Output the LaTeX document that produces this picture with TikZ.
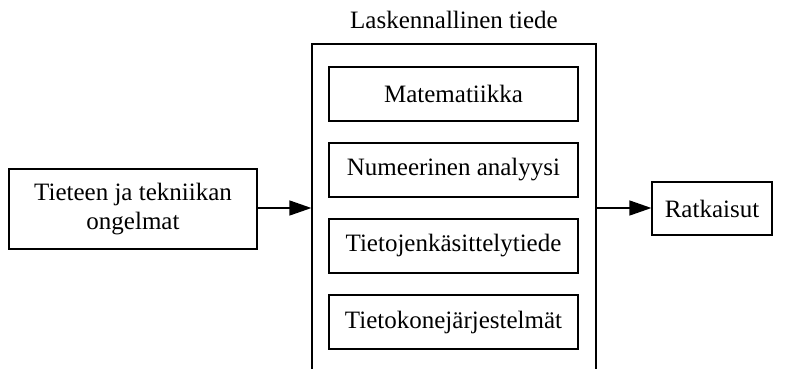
\documentclass[tikz,border=0pt]{standalone}
\usepackage{fontspec}
\setmainfont{Liberation Serif}
\usetikzlibrary{arrows.meta}
\begin{document}
\begin{tikzpicture}[x=1pt,y=-1pt,
  box/.style={draw, line width=1.2pt, inner sep=0pt, align=center, font=\fontsize{25}{29}\selectfont},
  arr/.style={line width=1.4pt, -{Triangle[length=22pt,width=15pt]}}]
\useasboundingbox (0,0) rectangle (788,368);
\clip (0,0) rectangle (788,368);
\node[box, minimum width=248pt, minimum height=80pt] (prob) at (133,209) {Tieteen ja tekniikan\\ongelmat};
\node[box, minimum width=284pt, minimum height=340pt] (ct) at (454,214) {};
\node[font=\fontsize{25}{29}\selectfont] (title) at (454,20) {Laskennallinen tiede};
\node[box, minimum width=249pt, minimum height=54pt] (m) at (453.5,94) {Matematiikka};
\node[box, minimum width=249pt, minimum height=54pt] (n) at (453.5,170) {Numeerinen analyysi};
\node[box, minimum width=249pt, minimum height=54pt] (t) at (453.5,246) {Tietojenkäsittelytiede};
\node[box, minimum width=249pt, minimum height=54pt] (k) at (453.5,322) {Tietokonejärjestelmät};
\node[box, minimum width=120pt, minimum height=53pt] (r) at (712,208.5) {Ratkaisut};
\coordinate (a1) at (prob.east |- 0,208);
\draw[arr] (a1) -- (a1 -| ct.west);
\coordinate (a2) at (ct.east |- 0,208);
\draw[arr] (a2) -- (a2 -| r.west);
\end{tikzpicture}
\end{document}
